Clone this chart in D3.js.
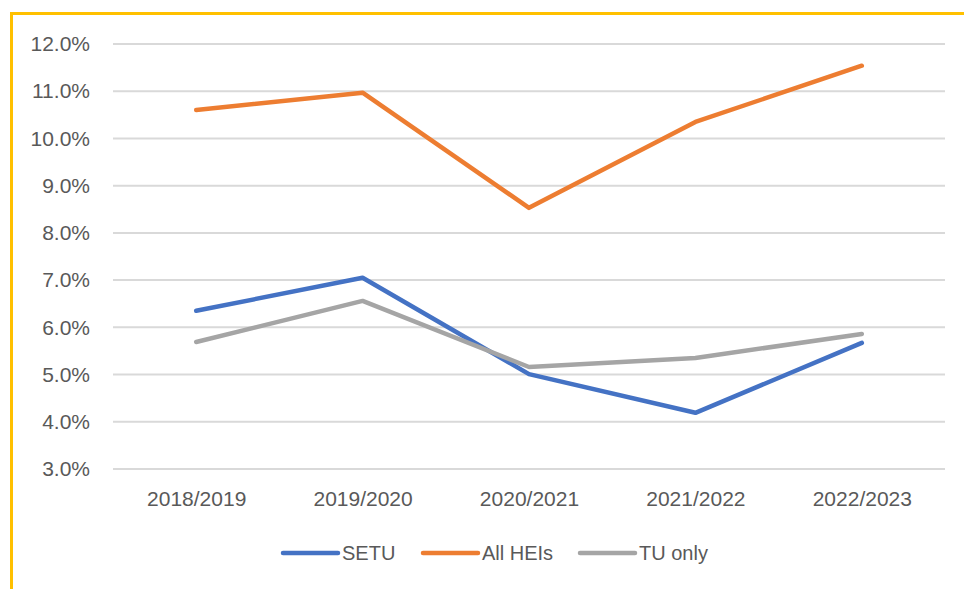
<!DOCTYPE html>
<html>
<head>
<meta charset="utf-8">
<script src="https://cdn.jsdelivr.net/npm/d3@7"></script>
<style>
  body { margin: 0; background: #fff; }
  svg { display: block; font-family: "Liberation Sans", Arial, sans-serif; }
</style>
</head>
<body>
<div id="chart"></div>
<script>
// Data
const years = ['2018/2019', '2019/2020', '2020/2021', '2021/2022', '2022/2023'];
const setu = [6.35, 7.05, 5.01, 4.19, 5.67];
const allHeis = [10.6, 10.97, 8.53, 10.35, 11.54];
const tuOnly = [5.69, 6.56, 5.16, 5.35, 5.86];
const yTicks = [3, 4, 5, 6, 7, 8, 9, 10, 11, 12];

const series = [
    { label: 'SETU', values: setu, color: '#4472C4' },
    { label: 'All HEIs', values: allHeis, color: '#ED7D31' },
    { label: 'TU only', values: tuOnly, color: '#A5A5A5' }
];

const width = 964, height = 589;
const plot = { left: 113, right: 945, top: 44, bottom: 469 };

const svg = d3.select('#chart').append('svg')
    .attr('width', width)
    .attr('height', height);

// Yellow frame on top and left edges
svg.append('path')
    .attr('d', `M11.5,${height} V13.5 H${width}`)
    .attr('fill', 'none')
    .attr('stroke', '#FFC000')
    .attr('stroke-width', 3);

const x = d3.scalePoint()
    .domain(years)
    .range([plot.left, plot.right])
    .padding(0.5);

const y = d3.scaleLinear()
    .domain([3, 12])
    .range([plot.bottom, plot.top]);

// Gridlines
svg.append('g')
    .selectAll('line')
    .data(yTicks)
    .join('line')
    .attr('x1', plot.left)
    .attr('x2', plot.right)
    .attr('y1', d => y(d))
    .attr('y2', d => y(d))
    .attr('stroke', '#D9D9D9')
    .attr('stroke-width', 2);

// Y axis labels
const yAxis = d3.axisLeft(y)
    .tickValues(yTicks)
    .tickFormat(d => d.toFixed(1) + '%')
    .tickSize(0)
    .tickPadding(23);

svg.append('g')
    .attr('transform', `translate(${plot.left},0)`)
    .call(yAxis)
    .call(g => g.select('.domain').remove())
    .selectAll('text')
    .attr('fill', '#595959')
    .style('font-size', '21px')
    .style('font-family', '"Liberation Sans", Arial, sans-serif');

// X axis labels
const xAxis = d3.axisBottom(x).tickSize(0).tickPadding(22);

svg.append('g')
    .attr('transform', `translate(0,${plot.bottom})`)
    .call(xAxis)
    .call(g => g.select('.domain').remove())
    .selectAll('text')
    .attr('fill', '#595959')
    .style('font-size', '21px')
    .style('font-family', '"Liberation Sans", Arial, sans-serif');

// Lines
const line = d3.line()
    .x((d, i) => x(years[i]))
    .y(d => y(d));

series.forEach(s => {
    svg.append('path')
        .datum(s.values)
        .attr('fill', 'none')
        .attr('stroke', s.color)
        .attr('stroke-width', 4.5)
        .attr('stroke-linecap', 'round')
        .attr('stroke-linejoin', 'round')
        .attr('d', line);
});

// Legend
const legendX = [283, 423, 580];
const legend = svg.append('g').attr('transform', 'translate(0,553)');

series.forEach((s, i) => {
    const item = legend.append('g').attr('transform', `translate(${legendX[i]},0)`);
    item.append('line')
        .attr('x1', 0)
        .attr('x2', 55)
        .attr('stroke', s.color)
        .attr('stroke-width', 4.5)
        .attr('stroke-linecap', 'round');
    item.append('text')
        .attr('x', 59)
        .attr('dy', '0.35em')
        .attr('fill', '#595959')
        .style('font-size', '20px')
        .text(s.label);
});
</script>
</body>
</html>
